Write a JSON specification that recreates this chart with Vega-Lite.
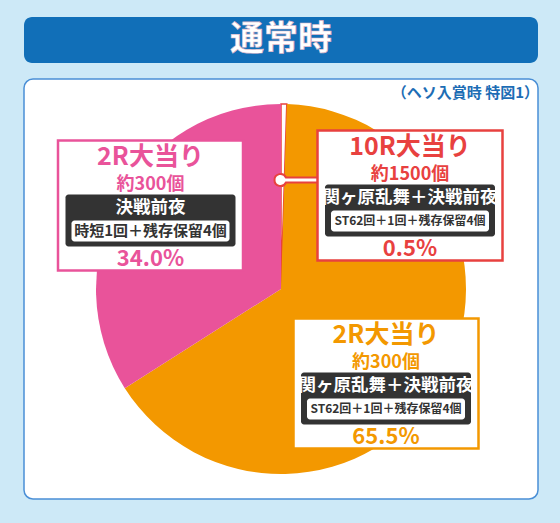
{
  "$schema": "https://vega.github.io/schema/vega-lite/v6.json",
  "background": "#cde9f7",
  "padding": {"left": 23, "right": 23, "top": 17, "bottom": 25},
  "spacing": 15,
  "config": {
    "font": "Noto Sans CJK JP",
    "view": {"stroke": null},
    "concat": {"spacing": 15}
  },
  "datasets": {
    "header": [{"label": "通常時"}],
    "slices": [
      {"key": "10R", "pct": 0.005, "t1": "10R大当り", "t2": "約1500個", "t3": "関ヶ原乱舞＋決戦前夜", "t4": "ST62回＋1回＋残存保留4個"},
      {"key": "2R_A", "pct": 0.655, "t1": "2R大当り", "t2": "約300個", "t3": "関ヶ原乱舞＋決戦前夜", "t4": "ST62回＋1回＋残存保留4個"},
      {"key": "2R_B", "pct": 0.34, "t1": "2R大当り", "t2": "約300個", "t3": "決戦前夜", "t4": "時短1回＋残存保留4個"}
    ]
  },
  "vconcat": [
    {
      "width": 514,
      "height": 46,
      "view": {"fill": "#116fb8", "stroke": null, "cornerRadius": 8},
      "data": {"name": "header"},
      "mark": {"type": "text", "fontSize": 34, "fontWeight": "bold", "color": "#ffffff", "stroke": "#d9b3c6", "strokeWidth": 0.6, "baseline": "middle", "align": "center"},
      "encoding": {"text": {"field": "label", "type": "nominal"}}
    },
    {
      "width": 514,
      "height": 420,
      "view": {"fill": "#ffffff", "stroke": "#4a8fd6", "strokeWidth": 1.5, "cornerRadius": 9},
      "title": {"text": "（ヘソ入賞時 特図1）", "anchor": "end", "frame": "group", "offset": -22, "fontSize": 15, "fontWeight": "bold", "color": "#1d6db5", "dx": 1},
      "data": {"name": "slices"},
      "layer": [
        {
          "mark": {"type": "arc", "outerRadius": 185, "strokeWidth": 1.5},
          "encoding": {
            "theta": {"field": "pct", "type": "quantitative", "stack": true},
            "order": {"field": "key", "type": "ordinal", "sort": "ascending"},
            "fill": {"field": "key", "type": "nominal", "scale": {"domain": ["10R", "2R_A", "2R_B"], "range": ["#ffffff", "#f39800", "#e9539a"]}, "legend": null},
            "stroke": {"condition": {"test": "datum.key === '10R'", "value": "#e8413f"}, "value": "transparent"}
          }
        },
        {
          "transform": [{"filter": "datum.key === '10R'"}],
          "mark": {"type": "point", "shape": "M-124.05,-18L-92,-18L-92,-13L-124.05,-13A6,6 0 1 1 -124.05,-18Z", "size": 4, "filled": true, "fill": "#ffffff", "stroke": "#e8413f", "strokeWidth": 2, "opacity": 1},
          "encoding": {
            "x": {"field": "pct", "type": "quantitative", "axis": null, "scale": {"domain": [0.005, 0.34, 0.655], "range": [386, 126.5, 362], "nice": false, "zero": false}},
            "y": {"field": "pct", "type": "quantitative", "axis": null, "scale": {"domain": [0.005, 0.34, 0.655], "range": [116.5, 126.5, 304.5], "nice": false, "zero": false}}
          }
        },
        {
          "mark": {"type": "point", "shape": "M-92.5,-65H92.5V65H-92.5Z", "size": 4, "filled": true, "fill": "#ffffff", "strokeWidth": 2.5, "opacity": 1},
          "encoding": {
            "x": {"field": "pct", "type": "quantitative", "axis": null, "scale": {"domain": [0.005, 0.34, 0.655], "range": [386, 126.5, 362], "nice": false, "zero": false}},
            "y": {"field": "pct", "type": "quantitative", "axis": null, "scale": {"domain": [0.005, 0.34, 0.655], "range": [116.5, 126.5, 304.5], "nice": false, "zero": false}},
            "stroke": {"field": "key", "type": "nominal", "scale": {"domain": ["10R", "2R_A", "2R_B"], "range": ["#e8413f", "#f39800", "#e9539a"]}, "legend": null}
          }
        },
        {
          "mark": {"type": "point", "shape": "M-82,-11H82A3,3 0 0 1 85,-8V38A3,3 0 0 1 82,41H-82A3,3 0 0 1 -85,38V-8A3,3 0 0 1 -82,-11Z", "size": 4, "filled": true, "fill": "#333333", "strokeWidth": 0, "opacity": 1},
          "encoding": {
            "x": {"field": "pct", "type": "quantitative", "axis": null, "scale": {"domain": [0.005, 0.34, 0.655], "range": [386, 126.5, 362], "nice": false, "zero": false}},
            "y": {"field": "pct", "type": "quantitative", "axis": null, "scale": {"domain": [0.005, 0.34, 0.655], "range": [116.5, 126.5, 304.5], "nice": false, "zero": false}}
          }
        },
        {
          "mark": {"type": "point", "shape": "M-76,15H76A3,3 0 0 1 79,18V33A3,3 0 0 1 76,36H-76A3,3 0 0 1 -79,33V18A3,3 0 0 1 -76,15Z", "size": 4, "filled": true, "fill": "#ffffff", "strokeWidth": 0, "opacity": 1},
          "encoding": {
            "x": {"field": "pct", "type": "quantitative", "axis": null, "scale": {"domain": [0.005, 0.34, 0.655], "range": [386, 126.5, 362], "nice": false, "zero": false}},
            "y": {"field": "pct", "type": "quantitative", "axis": null, "scale": {"domain": [0.005, 0.34, 0.655], "range": [116.5, 126.5, 304.5], "nice": false, "zero": false}}
          }
        },
        {
          "mark": {"type": "text", "fontSize": 25, "fontWeight": "bold", "baseline": "middle", "align": "center", "dy": -48.5},
          "encoding": {
            "x": {"field": "pct", "type": "quantitative", "axis": null, "scale": {"domain": [0.005, 0.34, 0.655], "range": [386, 126.5, 362], "nice": false, "zero": false}},
            "y": {"field": "pct", "type": "quantitative", "axis": null, "scale": {"domain": [0.005, 0.34, 0.655], "range": [116.5, 126.5, 304.5], "nice": false, "zero": false}},
            "text": {"field": "t1", "type": "nominal"},
            "color": {"field": "key", "type": "nominal", "scale": {"domain": ["10R", "2R_A", "2R_B"], "range": ["#e8413f", "#f39800", "#e9539a"]}, "legend": null}
          }
        },
        {
          "mark": {"type": "text", "fontSize": 18, "fontWeight": "bold", "baseline": "middle", "align": "center", "dy": -20.5},
          "encoding": {
            "x": {"field": "pct", "type": "quantitative", "axis": null, "scale": {"domain": [0.005, 0.34, 0.655], "range": [386, 126.5, 362], "nice": false, "zero": false}},
            "y": {"field": "pct", "type": "quantitative", "axis": null, "scale": {"domain": [0.005, 0.34, 0.655], "range": [116.5, 126.5, 304.5], "nice": false, "zero": false}},
            "text": {"field": "t2", "type": "nominal"},
            "color": {"field": "key", "type": "nominal", "scale": {"domain": ["10R", "2R_A", "2R_B"], "range": ["#e8413f", "#f39800", "#e9539a"]}, "legend": null}
          }
        },
        {
          "mark": {"type": "text", "fontSize": 17.5, "fontWeight": "bold", "baseline": "middle", "align": "center", "dy": 2.5, "color": "#ffffff"},
          "encoding": {
            "x": {"field": "pct", "type": "quantitative", "axis": null, "scale": {"domain": [0.005, 0.34, 0.655], "range": [386, 126.5, 362], "nice": false, "zero": false}},
            "y": {"field": "pct", "type": "quantitative", "axis": null, "scale": {"domain": [0.005, 0.34, 0.655], "range": [116.5, 126.5, 304.5], "nice": false, "zero": false}},
            "text": {"field": "t3", "type": "nominal"}
          }
        },
        {
          "transform": [{"filter": "datum.key !== '2R_B'"}],
          "mark": {"type": "text", "fontSize": 12, "fontWeight": "bold", "baseline": "middle", "align": "center", "dy": 25.5, "color": "#333333"},
          "encoding": {
            "x": {"field": "pct", "type": "quantitative", "axis": null, "scale": {"domain": [0.005, 0.34, 0.655], "range": [386, 126.5, 362], "nice": false, "zero": false}},
            "y": {"field": "pct", "type": "quantitative", "axis": null, "scale": {"domain": [0.005, 0.34, 0.655], "range": [116.5, 126.5, 304.5], "nice": false, "zero": false}},
            "text": {"field": "t4", "type": "nominal"}
          }
        },
        {
          "transform": [{"filter": "datum.key === '2R_B'"}],
          "mark": {"type": "text", "fontSize": 15, "fontWeight": "bold", "baseline": "middle", "align": "center", "dy": 25.5, "color": "#333333"},
          "encoding": {
            "x": {"field": "pct", "type": "quantitative", "axis": null, "scale": {"domain": [0.005, 0.34, 0.655], "range": [386, 126.5, 362], "nice": false, "zero": false}},
            "y": {"field": "pct", "type": "quantitative", "axis": null, "scale": {"domain": [0.005, 0.34, 0.655], "range": [116.5, 126.5, 304.5], "nice": false, "zero": false}},
            "text": {"field": "t4", "type": "nominal"}
          }
        },
        {
          "mark": {"type": "text", "fontSize": 22, "fontWeight": "bold", "baseline": "middle", "align": "center", "dy": 53},
          "encoding": {
            "x": {"field": "pct", "type": "quantitative", "axis": null, "scale": {"domain": [0.005, 0.34, 0.655], "range": [386, 126.5, 362], "nice": false, "zero": false}},
            "y": {"field": "pct", "type": "quantitative", "axis": null, "scale": {"domain": [0.005, 0.34, 0.655], "range": [116.5, 126.5, 304.5], "nice": false, "zero": false}},
            "text": {"field": "pct", "type": "quantitative", "format": ".1%"},
            "color": {"field": "key", "type": "nominal", "scale": {"domain": ["10R", "2R_A", "2R_B"], "range": ["#e8413f", "#f39800", "#e9539a"]}, "legend": null}
          }
        }
      ]
    }
  ]
}
